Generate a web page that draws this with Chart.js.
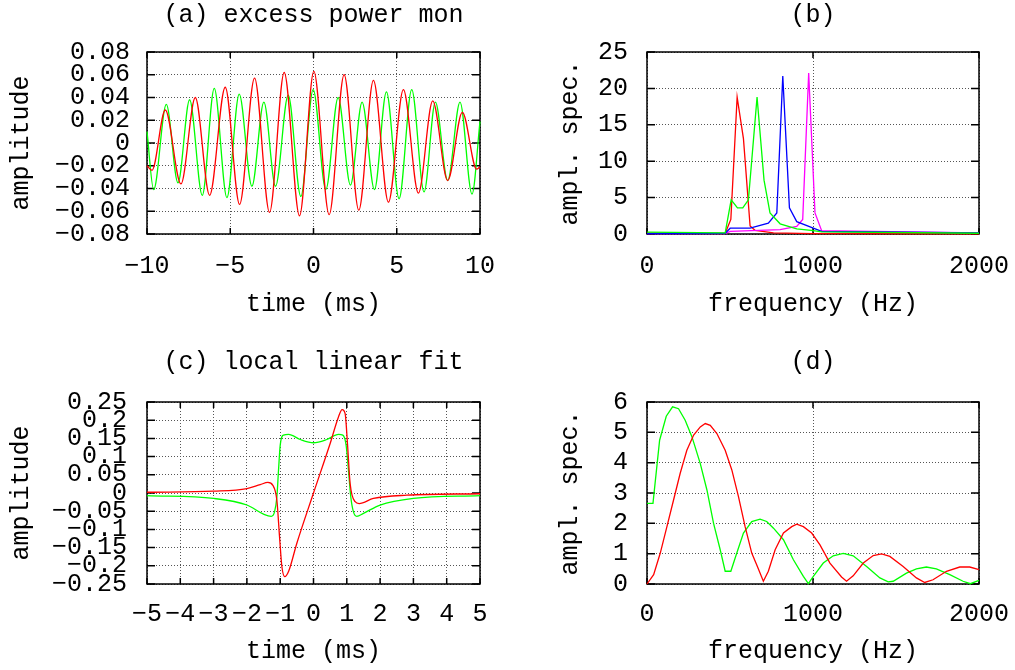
<!DOCTYPE html>
<html lang="en">
<head>
<meta charset="UTF-8">
<title>excess power monitor / local linear fit</title>
<script src="https://cdn.jsdelivr.net/npm/chart.js"></script>
<style>
  body { margin: 0; background: #fff; }
  .wrap { position: relative; width: 1015px; height: 670px; overflow: hidden; }
  .wrap div { position: absolute; }
</style>
</head>
<body>
<div class="wrap">
  <div style="left:0;top:0;width:505px;height:330px"><canvas id="chartA"></canvas></div>
  <div style="left:505px;top:0;width:510px;height:330px"><canvas id="chartB"></canvas></div>
  <div style="left:0;top:345px;width:505px;height:325px"><canvas id="chartC"></canvas></div>
  <div style="left:505px;top:345px;width:510px;height:325px"><canvas id="chartD"></canvas></div>
</div>
<script>
// (a) excess power mon - peaks/troughs
const aRedT = [-10, -9.70, -8.90, -7.96, -7.10, -6.24, -5.30, -4.44, -3.54, -2.64, -1.76, -0.84, 0.02, 0.94, 1.84, 2.72, 3.60, 4.50, 5.40, 6.30, 7.16, 8.06, 8.94, 9.80, 10];
const aRedV = [-0.020, -0.024, 0.029, -0.036, 0.040, -0.046, 0.049, -0.054, 0.057, -0.061, 0.062, -0.064, 0.063, -0.063, 0.060, -0.059, 0.055, -0.052, 0.047, -0.044, 0.037, -0.033, 0.027, -0.023, -0.021];
const aGreenT = [-10, -9.60, -8.84, -8.14, -7.44, -6.68, -5.96, -5.20, -4.46, -3.70, -2.98, -2.28, -1.52, -0.76, -0.02, 0.74, 1.48, 2.22, 2.92, 3.66, 4.38, 5.14, 5.90, 6.64, 7.32, 8.06, 8.80, 9.52, 10];
const aGreenV = [0.010, -0.041, 0.034, -0.035, 0.038, -0.046, 0.048, -0.048, 0.043, -0.038, 0.036, -0.038, 0.042, -0.047, 0.047, -0.041, 0.040, -0.037, 0.036, -0.041, 0.045, -0.049, 0.047, -0.043, 0.036, -0.033, 0.036, -0.045, 0.019];
const aXTicks = [-10, -5, 0, 5, 10];
const aYTicks = [-0.08, -0.06, -0.04, -0.02, 0, 0.02, 0.04, 0.06, 0.08];

// (b) amplitude spectra
const bRedF = [0, 200, 471, 505, 543, 581, 621, 651, 762, 1000, 2000];
const bRedV = [0.10, 0.08, 0.10, 2.0, 18.8, 13.1, 1.1, 0.5, 0.15, 0.05, 0.02];
const bGreenF = [0, 471, 507, 545, 577, 611, 663, 705, 741, 802, 902, 1002, 1052, 2000];
const bGreenV = [0.25, 0.15, 4.7, 3.6, 3.6, 4.7, 18.8, 7.4, 2.9, 1.4, 0.7, 0.45, 0.3, 0.1];
const bBlueF = [0, 471, 501, 621, 731, 782, 818, 858, 902, 1002, 1052, 2000];
const bBlueV = [0.05, 0.1, 0.8, 0.8, 1.5, 2.9, 21.7, 3.6, 1.7, 0.8, 0.35, 0.15];
const bMagentaF = [0, 471, 501, 802, 902, 938, 974, 1012, 1052, 2000];
const bMagentaV = [0.05, 0.05, 0.35, 0.6, 1.05, 2.0, 22.1, 2.9, 0.45, 0.15];
const bXTicks = [0, 1000, 2000];
const bYTicks = [0, 5, 10, 15, 20, 25];

// (c) local linear fit
const cRedT = [-5, -3, -2, -1.6, -1.37, -1.22, -1.10, -1.02, -0.95, -0.86, -0.75, -0.5, 0, 0.5, 0.75, 0.86, 0.95, 1.02, 1.10, 1.25, 1.37, 1.8, 2.8, 5];
const cRedV = [0.002, 0.005, 0.012, 0.023, 0.029, 0.021, -0.020, -0.120, -0.202, -0.230, -0.216, -0.138, 0.0, 0.136, 0.209, 0.229, 0.218, 0.136, 0.026, -0.024, -0.029, -0.015, -0.006, -0.002];
const cGreenT = [-5, -3, -2, -1.5, -1.27, -1.17, -1.10, -1.05, -1.0, -0.9, -0.75, -0.4, 0, 0.4, 0.75, 0.88, 0.98, 1.05, 1.12, 1.20, 1.30, 1.5, 2.0, 3.0, 5];
const cGreenV = [-0.007, -0.015, -0.033, -0.058, -0.064, -0.052, -0.011, 0.063, 0.131, 0.159, 0.161, 0.147, 0.138, 0.147, 0.161, 0.159, 0.131, 0.063, -0.011, -0.052, -0.064, -0.056, -0.033, -0.015, -0.007];
const cXTicks = [-5, -4, -3, -2, -1, 0, 1, 2, 3, 4, 5];
const cYTicks = [-0.25, -0.2, -0.15, -0.1, -0.05, 0, 0.05, 0.1, 0.15, 0.2, 0.25];

// (d) amplitude spectra of the fit
const dGreenF = [0, 36, 76, 116, 154, 190, 230, 271, 321, 361, 401, 441, 471, 505, 541, 581, 631, 681, 721, 762, 822, 882, 942, 972, 1002, 1062, 1122, 1182, 1242, 1323, 1403, 1453, 1483, 1563, 1623, 1683, 1743, 1824, 1904, 1948, 2000];
const dGreenV = [2.66, 2.66, 4.74, 5.53, 5.84, 5.78, 5.40, 4.85, 3.97, 3.10, 2.00, 1.13, 0.42, 0.42, 1.02, 1.68, 2.06, 2.14, 2.06, 1.84, 1.46, 0.80, 0.25, 0.01, 0.25, 0.69, 0.93, 1.01, 0.93, 0.58, 0.20, 0.07, 0.09, 0.36, 0.50, 0.56, 0.50, 0.31, 0.09, 0.01, 0.12];
const dRedF = [0, 40, 80, 120, 160, 200, 240, 281, 321, 351, 381, 421, 471, 511, 551, 591, 631, 665, 701, 731, 772, 822, 872, 902, 942, 992, 1042, 1102, 1172, 1202, 1242, 1303, 1363, 1413, 1463, 1543, 1623, 1673, 1723, 1804, 1884, 1944, 2000];
const dRedV = [0.0, 0.31, 1.02, 1.89, 2.77, 3.65, 4.41, 4.91, 5.18, 5.29, 5.23, 4.96, 4.41, 3.76, 2.88, 1.89, 1.02, 0.58, 0.09, 0.42, 1.13, 1.68, 1.89, 1.97, 1.89, 1.68, 1.29, 0.69, 0.23, 0.09, 0.27, 0.69, 0.94, 0.99, 0.91, 0.58, 0.20, 0.05, 0.14, 0.42, 0.56, 0.56, 0.47];
const dXTicks = [0, 1000, 2000];
const dYTicks = [0, 1, 2, 3, 4, 5, 6];

Chart.defaults.font.family = "'Liberation Mono', 'DejaVu Sans Mono', monospace";
Chart.defaults.font.size = 25;
Chart.defaults.color = '#000';

const fmt = v => String(Math.round(v * 1000) / 1000).replace('-', '\u2212');

// gnuplot-like box: solid border plus inward ticks on all four sides
const framePlugin = {
  id: 'frame',
  beforeDatasetsDraw(chart) {
    const { ctx, chartArea: a, scales } = chart;
    ctx.save();
    ctx.strokeStyle = '#000';
    ctx.lineWidth = 1.5;
    ctx.strokeRect(a.left, a.top, a.right - a.left, a.bottom - a.top);
    ctx.beginPath();
    scales.x.ticks.forEach(t => {
      const px = scales.x.getPixelForValue(t.value);
      ctx.moveTo(px, a.bottom); ctx.lineTo(px, a.bottom - 6);
      ctx.moveTo(px, a.top); ctx.lineTo(px, a.top + 6);
    });
    scales.y.ticks.forEach(t => {
      const py = scales.y.getPixelForValue(t.value);
      ctx.moveTo(a.left, py); ctx.lineTo(a.left + 8, py);
      ctx.moveTo(a.right, py); ctx.lineTo(a.right - 8, py);
    });
    ctx.stroke();
    ctx.restore();
  }
};

function series(xs, ys, color, smooth) {
  return {
    data: xs.map((x, i) => ({ x: x, y: ys[i] })),
    xAxisID: 'x',
    yAxisID: 'y',
    borderColor: color,
    borderWidth: 1.3,
    pointRadius: 0,
    fill: false,
    clip: 3,
    cubicInterpolationMode: smooth ? 'monotone' : 'default',
    tension: 0
  };
}

function panel(id, o) {
  return new Chart(document.getElementById(id), {
    type: 'line',
    data: { datasets: o.datasets },
    options: {
      responsive: true,
      maintainAspectRatio: false,
      animation: false,
      layout: { padding: { left: 0, top: 0, bottom: 0, right: o.padRight } },
      plugins: { legend: { display: false }, tooltip: { enabled: false } },
      scales: {
        t: {
          type: 'linear', position: 'top', min: 0, max: 1,
          ticks: { display: false }, grid: { display: false }, border: { display: false },
          title: { display: true, text: o.title, padding: { top: o.titleTop, bottom: 0 } },
          afterFit: s => { s.height = o.top; s.paddingLeft = 0; s.paddingRight = 0; }
        },
        x: {
          type: 'linear', position: 'bottom', min: o.xTicks[0], max: o.xTicks[o.xTicks.length - 1],
          afterBuildTicks: s => { s.ticks = o.xTicks.map(v => ({ value: v })); },
          ticks: { autoSkip: false, maxRotation: 0, padding: o.xPad, callback: fmt },
          grid: { color: '#555', drawTicks: false },
          border: { display: false, dash: [1, 2] },
          title: { display: true, text: o.xTitle, padding: { top: 0, bottom: o.xTitleBottom } },
          afterFit: s => { s.height = o.bottom; s.paddingLeft = 0; s.paddingRight = 0; }
        },
        y: {
          type: 'linear', position: 'left', min: o.yTicks[0], max: o.yTicks[o.yTicks.length - 1],
          afterBuildTicks: s => { s.ticks = o.yTicks.map(v => ({ value: v })); },
          ticks: { autoSkip: false, padding: o.yPad, callback: fmt },
          grid: { color: '#555', drawTicks: false },
          border: { display: false, dash: [1, 2] },
          title: { display: true, text: o.yTitle, padding: { top: o.yTitleTop, bottom: 0 } },
          afterFit: s => { s.width = o.left; }
        }
      }
    },
    plugins: [framePlugin]
  });
}

panel('chartA', {
  title: '(a) excess power mon', titleTop: 0, top: 52,
  xTitle: 'time (ms)', yTitle: 'amplitude',
  xTicks: aXTicks, yTicks: aYTicks,
  left: 147, padRight: 25, bottom: 96,
  xPad: 17, xTitleBottom: 11, yPad: 17, yTitleTop: 6,
  datasets: [series(aRedT, aRedV, '#ff0000', true), series(aGreenT, aGreenV, '#00ff00', true)]
});

panel('chartB', {
  title: '(b)', titleTop: 0, top: 52,
  xTitle: 'frequency (Hz)', yTitle: 'ampl. spec.',
  xTicks: bXTicks, yTicks: bYTicks,
  left: 142, padRight: 36, bottom: 96,
  xPad: 17, xTitleBottom: 11, yPad: 19, yTitleTop: 50,
  datasets: [
    series(bGreenF, bGreenV, '#00ff00', false),
    series(bBlueF, bBlueV, '#0000ff', false),
    series(bMagentaF, bMagentaV, '#ff00ff', false),
    series(bRedF, bRedV, '#ff0000', false)
  ]
});

panel('chartC', {
  title: '(c) local linear fit', titleTop: 2, top: 57,
  xTitle: 'time (ms)', yTitle: 'amplitude',
  xTicks: cXTicks, yTicks: cYTicks,
  left: 147, padRight: 25, bottom: 86,
  xPad: 15, xTitleBottom: 4, yPad: 20, yTitleTop: 6,
  datasets: [series(cRedT, cRedV, '#ff0000', true), series(cGreenT, cGreenV, '#00ff00', true)]
});

panel('chartD', {
  title: '(d)', titleTop: 2, top: 57,
  xTitle: 'frequency (Hz)', yTitle: 'ampl. spec.',
  xTicks: dXTicks, yTicks: dYTicks,
  left: 142, padRight: 36, bottom: 86,
  xPad: 15, xTitleBottom: 4, yPad: 19, yTitleTop: 50,
  datasets: [series(dRedF, dRedV, '#ff0000', false), series(dGreenF, dGreenV, '#00ff00', false)]
});
</script>
</body>
</html>
